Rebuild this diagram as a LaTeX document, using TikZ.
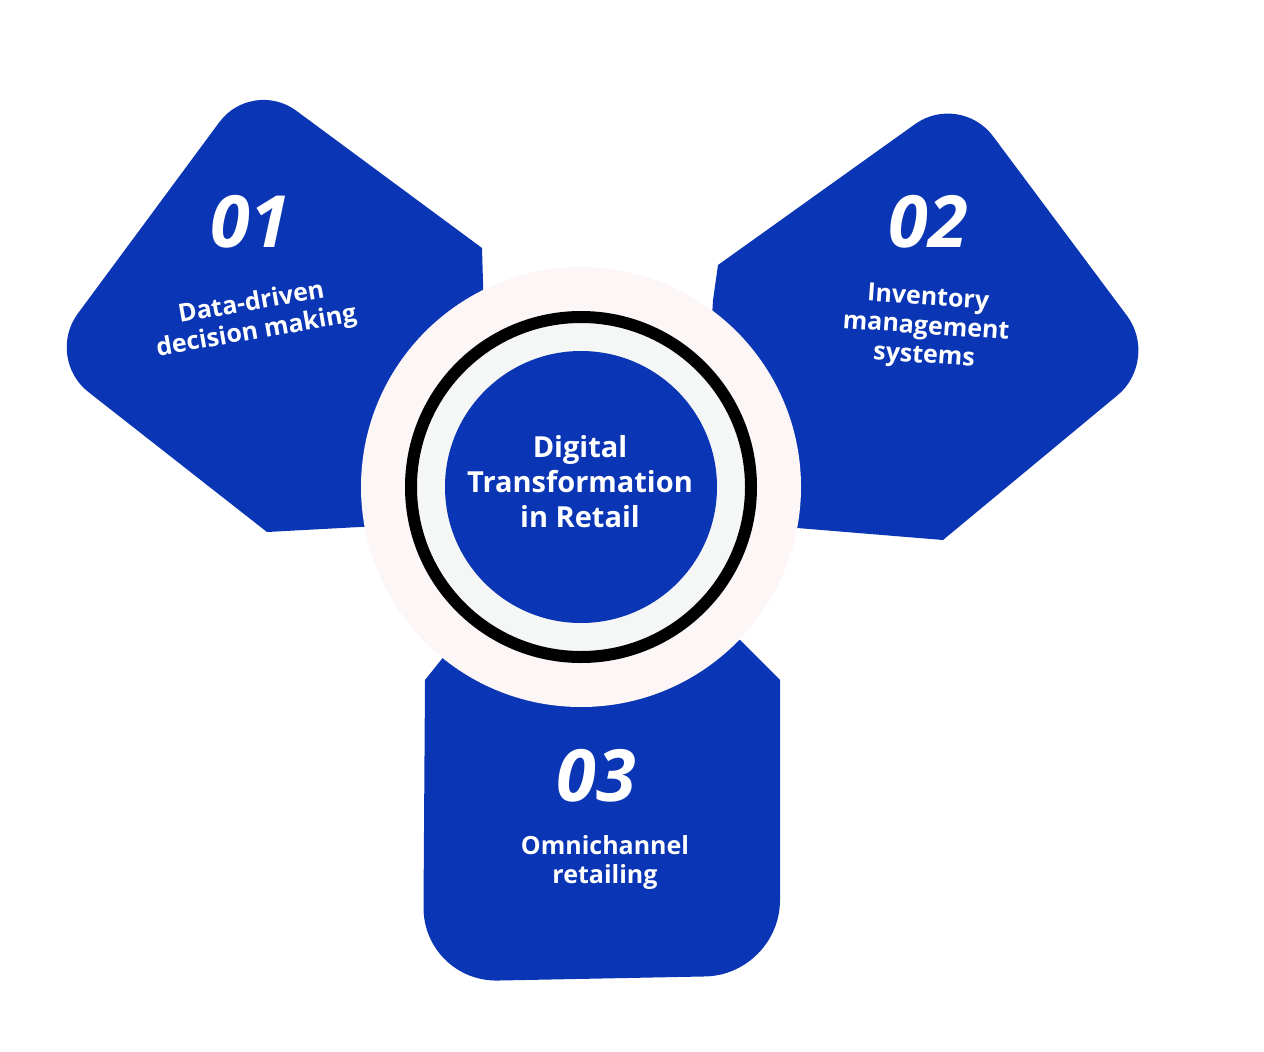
\documentclass[tikz,border=0pt]{standalone}
\usepackage{fontspec}
\setmainfont{Open Sans}
\begin{document}
\begin{tikzpicture}[x=1pt,y=-1pt]
\definecolor{bl}{HTML}{0A35B4}
\definecolor{pk}{HTML}{FDF6F6}
\definecolor{gr}{HTML}{F5F6F6}
\tikzset{petal/.style={fill=bl},
 num/.style={text=white,font=\bfseries\itshape\fontsize{72}{72}\selectfont},
 lbl/.style={text=white,font=\bfseries\fontsize{25}{29}\selectfont,align=center},
 ctr/.style={text=white,font=\bfseries\fontsize{29}{35}\selectfont,align=center}}
\useasboundingbox (0,0) rectangle (1264,1052);
% petal 01
\fill[petal] (482,248) -- (490,520) -- (267,532) [rounded corners=55] -- (45,358) -- (252,78) [sharp corners] -- (482,248) -- cycle;
% petal 02
\fill[petal] (718,265) [rounded corners=55] -- (960,92) -- (1160,360) [sharp corners] -- (943,540) -- (700,520) -- (713,300) -- cycle;
% petal 03
\fill[petal] (425,680) [rounded corners=75] -- (423,982) -- (780,975) [sharp corners] -- (780,680) -- (740,640) -- (445,655) -- cycle;
% circles
\node[circle,fill=pk,minimum size=440pt] (outer) at (581,487) {};
\node[circle,draw=black,line width=12pt,fill=gr,minimum size=340pt] (ring) at (581,487) {};
\node[circle,fill=bl,minimum size=272pt] (core) at (581,487) {};
\node[ctr] (ct) at (580,482) {Digital\\Transformation\\in Retail};
% labels
\node[num] (n1) at (250,222) {01};
\node[lbl,rotate=10] (l1) at (254,318) {Data-driven\\decision making};
\node[num] (n2) at (928,222) {02};
\node[lbl,rotate=-4] (l2) at (926,328) {Inventory\\management\\systems};
\node[num] (n3) at (596,776) {03};
\node[lbl] (l3) at (605,862) {Omnichannel\\retailing};
\end{tikzpicture}
\end{document}
